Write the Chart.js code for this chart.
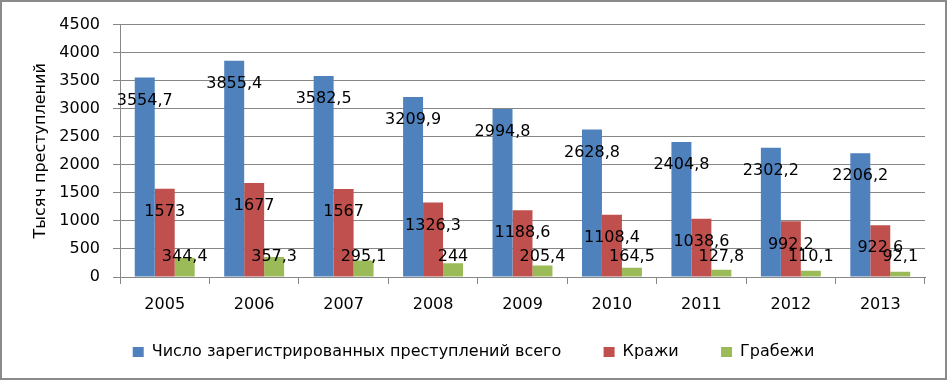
<!DOCTYPE html>
<html>
<head>
<meta charset="utf-8">
<script src="https://cdn.jsdelivr.net/npm/chart.js@4/dist/chart.umd.min.js"></script>
<style>
    body { margin: 0; background: #fff; }
    #wrap { width: 947px; height: 380px; box-sizing: border-box; border: 2px solid #8a8a8a; background: #fff; }
    canvas { display: block; }
</style>
</head>
<body>
<div id="wrap"><canvas id="barChart" width="943" height="376"></canvas></div>
<script>
// данные с диаграммы
const years = ['2005', '2006', '2007', '2008', '2009', '2010', '2011', '2012', '2013'];
const totalCrimes = [3554.7, 3855.4, 3582.5, 3209.9, 2994.8, 2628.8, 2404.8, 2302.2, 2206.2];
const thefts = [1573, 1677, 1567, 1326.3, 1188.6, 1108.4, 1038.6, 992.2, 922.6];
const robberies = [344.4, 357.3, 295.1, 244, 205.4, 164.5, 127.8, 110.1, 92.1];
const yTicks = [0, 500, 1000, 1500, 2000, 2500, 3000, 3500, 4000, 4500];

const FONT = 'DejaVu Sans';
const gridColor = '#878787';

// подписи значений на столбцах
const valueLabels = {
    id: 'valueLabels',
    afterDatasetsDraw(chart) {
        const c = chart.ctx;
        const yScale = chart.scales.y;
        c.save();
        c.font = '16px "' + FONT + '"';
        c.fillStyle = '#000';
        c.textAlign = 'center';
        c.textBaseline = 'middle';
        chart.data.datasets.forEach((ds, i) => {
            const meta = chart.getDatasetMeta(i);
            meta.data.forEach((bar, j) => {
                const txt = String(ds.data[j]).replace('.', ',');
                let y = bar.y + 23;
                if (i === 2) y = yScale.getPixelForValue(357);
                c.fillText(txt, bar.x, y);
            });
        });
        c.restore();
    }
};

const ctx = document.getElementById('barChart').getContext('2d');
new Chart(ctx, {
    type: 'bar',
    data: {
        labels: years,
        datasets: [
            { label: 'Число зарегистрированных преступлений всего', data: totalCrimes, backgroundColor: '#4F81BD' },
            { label: 'Кражи', data: thefts, backgroundColor: '#C0504D' },
            { label: 'Грабежи', data: robberies, backgroundColor: '#9BBB59' }
        ]
    },
    options: {
        responsive: false,
        animation: false,
        layout: { padding: { top: 19, right: 20, bottom: 8, left: 20 } },
        datasets: {
            bar: { categoryPercentage: 0.67, barPercentage: 1.0 }
        },
        plugins: {
            legend: {
                position: 'bottom',
                labels: {
                    font: { family: FONT, size: 16 },
                    color: '#000',
                    boxWidth: 11,
                    boxHeight: 10,
                    padding: 22,
                    // пробелы после текста дают интервал между элементами легенды
                    generateLabels: chart => Chart.defaults.plugins.legend.labels.generateLabels(chart)
                        .map((item, i, all) => ({ ...item, text: i < all.length - 1 ? item.text + '    ' : item.text }))
                }
            },
            tooltip: { enabled: false }
        },
        scales: {
            x: {
                grid: { offset: true, drawOnChartArea: false, tickLength: 7, color: gridColor },
                border: { color: gridColor },
                ticks: { font: { family: FONT, size: 16 }, color: '#000', padding: 11, maxRotation: 0 },
                afterFit: s => { s.height = 45; }
            },
            y: {
                min: 0,
                max: 4500,
                afterBuildTicks: s => { s.ticks = yTicks.map(v => ({ value: v })); },
                grid: { color: gridColor, tickLength: 7 },
                border: { color: gridColor },
                ticks: { font: { family: FONT, size: 16 }, color: '#000', padding: 13, callback: v => String(v) },
                title: {
                    display: true,
                    text: 'Тысяч преступлений',
                    font: { family: FONT, size: 16 },
                    color: '#000',
                    padding: { top: 9, bottom: 0 }
                },
                afterFit: s => { s.width = 98; }
            }
        }
    },
    plugins: [valueLabels]
});
</script>
</body>
</html>
